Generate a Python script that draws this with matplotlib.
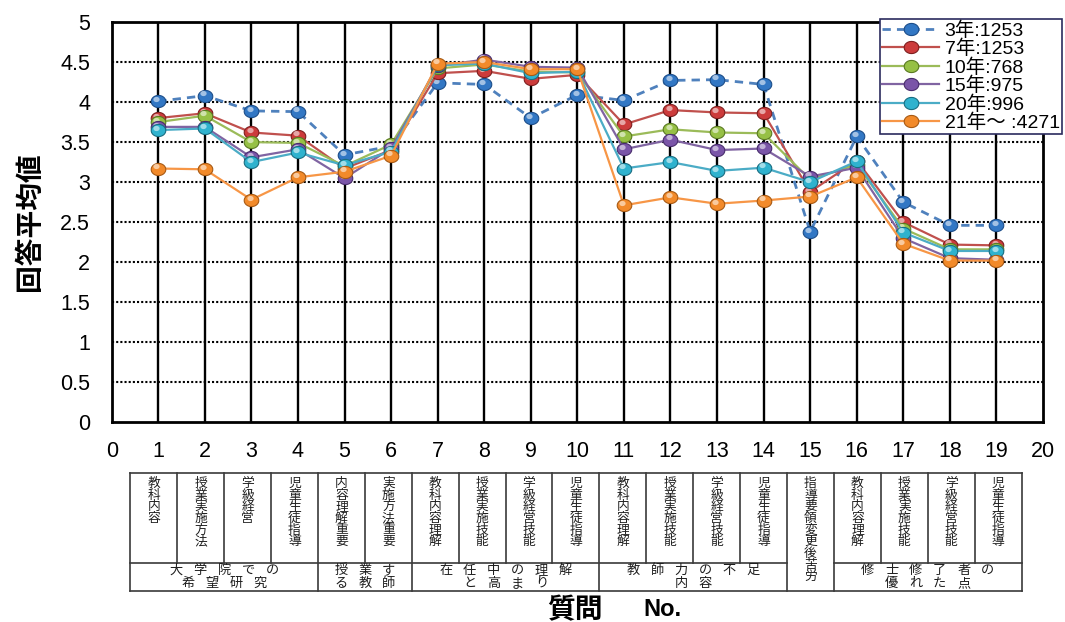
import matplotlib
matplotlib.use("Agg")
import matplotlib.pyplot as plt
from matplotlib.transforms import ScaledTranslation
import numpy as np

# ---- data -------------------------------------------------------------
questions = list(range(1, 20))

series_labels = ["3年:1253", "7年:1253", "10年:768", "15年:975", "20年:996", "21年～ :4271"]

values_3y = [4.01, 4.08, 3.89, 3.88, 3.34, 3.45, 4.24, 4.22, 3.80, 4.09,
             4.02, 4.27, 4.28, 4.22, 2.38, 3.57, 2.75, 2.46, 2.46]
values_7y = [3.80, 3.86, 3.62, 3.58, 3.17, 3.40, 4.36, 4.39, 4.29, 4.34,
             3.72, 3.90, 3.87, 3.86, 2.88, 3.27, 2.50, 2.22, 2.21]
values_10y = [3.75, 3.83, 3.50, 3.49, 3.20, 3.47, 4.42, 4.47, 4.38, 4.37,
              3.57, 3.66, 3.62, 3.61, 3.03, 3.22, 2.42, 2.16, 2.16]
values_15y = [3.69, 3.69, 3.31, 3.41, 3.05, 3.42, 4.45, 4.53, 4.44, 4.43,
              3.41, 3.53, 3.40, 3.42, 3.07, 3.18, 2.30, 2.05, 2.03]
values_20y = [3.65, 3.67, 3.25, 3.37, 3.21, 3.38, 4.46, 4.48, 4.36, 4.38,
              3.17, 3.25, 3.14, 3.18, 3.00, 3.26, 2.37, 2.14, 2.14]
values_21y = [3.17, 3.16, 2.78, 3.06, 3.13, 3.33, 4.48, 4.50, 4.41, 4.41,
              2.71, 2.81, 2.73, 2.77, 2.82, 3.06, 2.23, 2.02, 2.02]

item_labels = ["教科内容", "授業実施方法", "学級経営", "児童生徒指導",
               "内容理解重要", "実施方法重要",
               "教科内容理解", "授業実施技能", "学級経営技能", "児童生徒指導",
               "教科内容理解", "授業実施技能", "学級経営技能", "児童生徒指導",
               "指導要領変更後苦労",
               "教科内容理解", "授業実施技能", "学級経営技能", "児童生徒指導"]

group_spans = [(1, 4), (5, 6), (7, 10), (11, 14), (16, 19)]
group_labels = [("大学院での", "希望研究"), ("授業す", "る教師"),
                ("在任中の理解", "と高まり"), ("教師力の不足", "内容"),
                ("修士修了者の", "優れた点")]
merged_item = 15

x_ticks = list(range(0, 21))
y_ticks = [0, 0.5, 1, 1.5, 2, 2.5, 3, 3.5, 4, 4.5, 5]
y_tick_labels = ["0", "0.5", "1", "1.5", "2", "2.5", "3", "3.5", "4", "4.5", "5"]

# ---- styling ----------------------------------------------------------
LATIN = "Liberation Sans"
CJK = "Noto Sans CJK JP"
plt.rcParams["font.family"] = [LATIN, CJK]

styles = [
    dict(line="#4F81BD", face="#3277C4", edge="#1D4E8A", ls=(0, (3, 2.2)), lw=2.0),
    dict(line="#C0504D", face="#CC3B3B", edge="#7E1F1F", ls="-", lw=1.6),
    dict(line="#9BBB59", face="#96C045", edge="#5A7A22", ls="-", lw=1.6),
    dict(line="#8064A2", face="#7A55A8", edge="#4A2E6E", ls="-", lw=1.6),
    dict(line="#4BACC6", face="#2FB2CE", edge="#1A6E82", ls="-", lw=1.6),
    dict(line="#F79646", face="#F28A2A", edge="#A85A14", ls="-", lw=1.6),
]

# slightly wide elliptical marker
t = np.linspace(0, 2 * np.pi, 48)
ellipse = list(zip(1.2 * np.cos(t), np.sin(t)))

W, H = 1065, 622
fig = plt.figure(figsize=(W / 100, H / 100), dpi=100)

left_px, right_px, top_px, bottom_px = 111.7, 1043.0, 22.0, 422.3
ax = fig.add_axes([left_px / W, 1 - bottom_px / H,
                   (right_px - left_px) / W, (bottom_px - top_px) / H])
ax.set_xlim(0, 20)
ax.set_ylim(0, 5)

# grid: solid verticals, dotted horizontals
for xv in range(1, 20):
    ax.axvline(xv, color="black", lw=1.7, zorder=1)
for yv in y_ticks[1:-1]:
    ax.axhline(yv, color="black", lw=1.5, ls=(0, (1, 1)), zorder=1)

for sp in ax.spines.values():
    sp.set_linewidth(2.0)
    sp.set_color("black")

ax.set_xticks(x_ticks)
ax.set_xticklabels([str(v) for v in x_ticks])
ax.set_yticks(y_ticks)
ax.set_yticklabels(y_tick_labels)
ax.tick_params(axis="both", length=0, labelsize=15.5)
ax.tick_params(axis="y", pad=15.5)
ax.tick_params(axis="x", pad=13.5)
for lab in ax.get_xticklabels() + ax.get_yticklabels():
    lab.set_fontfamily(LATIN)

all_values = [values_3y, values_7y, values_10y, values_15y, values_20y, values_21y]
highlight = ax.transData + ScaledTranslation(-1.3 / 72, 1.6 / 72, fig.dpi_scale_trans)
handles = []
for i, (vals, st, lab) in enumerate(zip(all_values, styles, series_labels)):
    z = 3 + i * 0.3
    h, = ax.plot(questions, vals, color=st["line"], lw=st["lw"], ls=st["ls"],
                 marker=ellipse, ms=10.5, mfc=st["face"], mec=st["edge"],
                 mew=0.8, zorder=z, label=lab)
    ax.plot(questions, vals, ls="none", marker=ellipse, ms=4.5, mfc="white",
            mec="none", alpha=0.55, transform=highlight, zorder=z + 0.1)
    handles.append(h)

leg = fig.legend(handles=handles, loc="upper right",
                 bbox_to_anchor=(1062 / W, 1 - 19 / H),
                 bbox_transform=fig.transFigure,
                 prop={"family": [LATIN, CJK], "size": 14},
                 handlelength=2.9, handletextpad=0.3, labelspacing=0.0,
                 borderpad=0.12, borderaxespad=0, fancybox=False,
                 framealpha=1, edgecolor="#2B2B5E")
leg.get_frame().set_linewidth(1.2)

# axis titles
fig.text(30 / W, 1 - 222 / H, "回答平均値", rotation=90, ha="center",
         va="center", fontsize=20, fontweight="bold", family=[CJK])
fig.text(575 / W, 1 - 610 / H, "質問", ha="center", va="center",
         fontsize=20, fontweight="bold", family=[CJK])
fig.text(662 / W, 1 - 610 / H, "No.", ha="center", va="center",
         fontsize=17, fontweight="bold", family=[LATIN])

# ---- item table below the axis ---------------------------------------
tax = fig.add_axes([left_px / W, 1 - 600 / H, (right_px - left_px) / W, 135 / H])
tax.set_xlim(0, 20)
tax.set_ylim(600, 465)
tax.axis("off")

tbl_top, tbl_mid, tbl_bot = 473, 563, 591
x0, x1 = 0.40, 19.54
n = len(questions)
step = (x1 - x0) / n
bounds = [x0 + k * step for k in range(n + 1)]
line_kw = dict(color="#3A3A3A", lw=1.2, clip_on=False)

tax.plot([x0, x1], [tbl_top, tbl_top], **line_kw)
tax.plot([x0, x1], [tbl_bot, tbl_bot], **line_kw)
tax.plot([bounds[0], bounds[merged_item - 1]], [tbl_mid, tbl_mid], **line_kw)
tax.plot([bounds[merged_item], bounds[-1]], [tbl_mid, tbl_mid], **line_kw)
group_edges = {0, merged_item - 1, merged_item, n}
for a, b in group_spans:
    group_edges.update({a - 1, b})
for k, bx in enumerate(bounds):
    yb = tbl_bot if k in group_edges else tbl_mid
    tax.plot([bx, bx], [tbl_top, yb], **line_kw)

# item names written top to bottom, one character at a time
char_pitch = 11.7
for q, label in zip(questions, item_labels):
    cx = x0 + (q - 0.5) * step
    for j, ch in enumerate(label):
        tax.text(cx, 483.3 + j * char_pitch, ch, ha="center", va="center",
                 fontsize=9.2, family=[CJK], color="#1E1E1E")

# spaced-out group captions on two lines
group_pitch = 0.515
for (a, b), lines in zip(group_spans, group_labels):
    cx = x0 + ((a - 1) + b) / 2 * step
    for row_y, line in zip((570.5, 583.3), lines):
        m = len(line)
        for j, ch in enumerate(line):
            tax.text(cx + (j - (m - 1) / 2) * group_pitch, row_y, ch,
                     ha="center", va="center", fontsize=9.5, family=[CJK],
                     color="#1E1E1E")

fig.savefig("out.png", dpi=100)
